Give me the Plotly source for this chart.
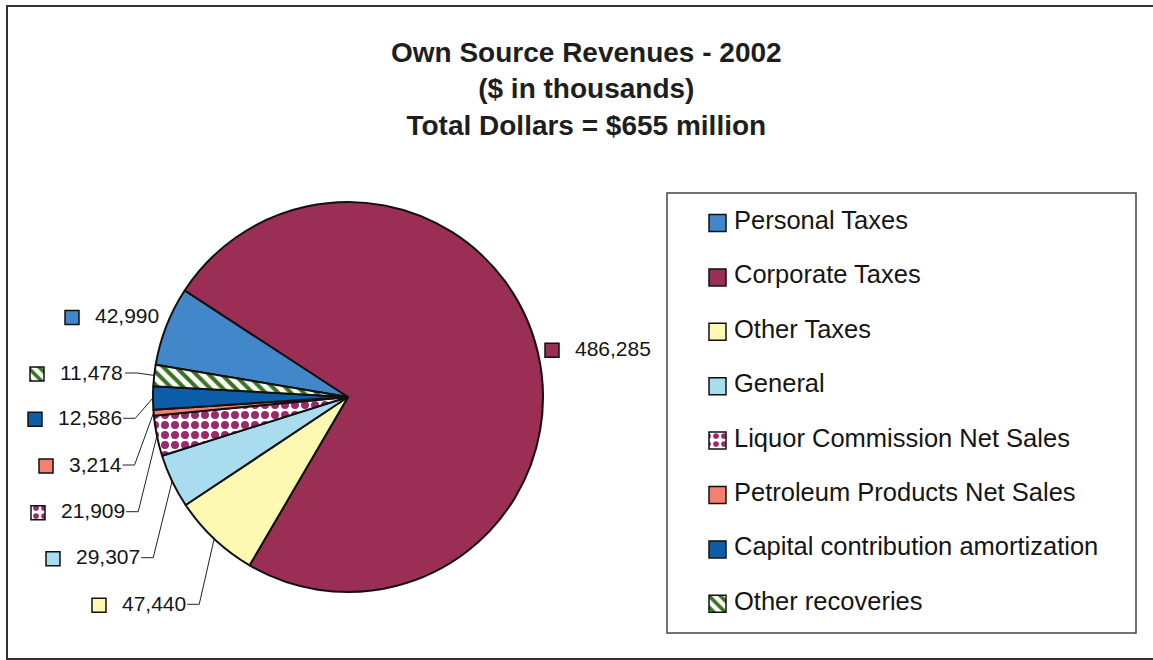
import math
import plotly.graph_objects as go

# ---- data -------------------------------------------------------------
categories = [
    "Personal Taxes",
    "Corporate Taxes",
    "Other Taxes",
    "General",
    "Liquor Commission Net Sales",
    "Petroleum Products Net Sales",
    "Capital contribution amortization",
    "Other recoveries",
]
revenues = [42990, 486285, 47440, 29307, 21909, 3214, 12586, 11478]  # $ thousands

title_lines = [
    "Own Source Revenues - 2002",
    "($ in thousands)",
    "Total Dollars = $655 million",
]

# ---- styles -----------------------------------------------------------
fill_colors = ["#4287c9", "#9b2e55", "#fdf8b2", "#a9dcee",
               "#ffffff", "#f5806f", "#0d5ea9", "#ffffff"]
pattern_shapes = ["", "", "", "", ".", "", "", "\\"]
pattern_fg = ["", "", "", "", "#9a2a6c", "", "", "#3a7420"]

FONT = "Liberation Sans, Arial, sans-serif"
W, H = 1153, 660
CX, CY, R = 348, 397, 195          # pie centre / radius in px
ROTATION = 279.5                   # start angle of first slice (clockwise from 12 o'clock)

# value label placement (text left edge, text middle) in px
label_left = [93, 573, 120, 74, 59, 67, 56, 58]
label_mid = [315.5, 348.3, 603.3, 556.7, 510.7, 464, 417.3, 372]
has_leader = [False, False, True, True, True, True, True, True]
LABEL_SIZE = 21
LABEL_KEY = 14

# legend placement
LEG_BOX = (667, 193, 1136, 633)
LEG_KEY_X = 717.5
LEG_TEXT_X = 732
LEG_TOP = 223
LEG_STEP = 54.4
LEG_SIZE = 25.5
LEG_KEY = 17


def text_width(s, size):
    # Arial / Liberation Sans advance widths for digits and commas
    return sum(0.556 if c.isdigit() else 0.278 for c in s) * size


def pattern_for(i):
    if not pattern_shapes[i]:
        return dict(shape="")
    dots = pattern_shapes[i] == "."
    return dict(shape=pattern_shapes[i], fgcolor=pattern_fg[i], bgcolor="#ffffff",
                size=8, solidity=0.4 if dots else 0.45, fillmode="replace")


fig = go.Figure()

# pie
fig.add_trace(go.Pie(
    labels=categories,
    values=revenues,
    sort=False,
    direction="clockwise",
    rotation=ROTATION,
    textinfo="none",
    hoverinfo="label+value+percent",
    showlegend=False,
    marker=dict(
        colors=fill_colors,
        line=dict(color="#111111", width=2),
        pattern=dict(
            shape=pattern_shapes,
            fgcolor=[c if c else "#000000" for c in pattern_fg],
            bgcolor=[("#ffffff" if s else c) for s, c in zip(pattern_shapes, fill_colors)],
            size=[10 if s == "." else 9 for s in pattern_shapes],
            solidity=[0.5 if s == "." else 0.45 for s in pattern_shapes],
        ),
    ),
    domain=dict(x=[(CX - R) / W, (CX + R) / W], y=[1 - (CY + R) / H, 1 - (CY - R) / H]),
))

# slice mid-angles from the data
total = sum(revenues)
mid_angles = []
acc = 0.0
for v in revenues:
    mid_angles.append(ROTATION + (acc + v / 2) / total * 360.0)
    acc += v

value_text = [f"{v:,}" for v in revenues]
annotations = []

for i, cat in enumerate(categories):
    # value label
    annotations.append(dict(
        x=label_left[i], y=label_mid[i], xref="x", yref="y",
        text=value_text[i], showarrow=False, xanchor="left", yanchor="middle",
        font=dict(family=FONT, size=LABEL_SIZE, color="#151515"),
    ))
    # legend entry text
    annotations.append(dict(
        x=LEG_TEXT_X, y=LEG_TOP + LEG_STEP * i - 3, xref="x", yref="y",
        text=cat, showarrow=False, xanchor="left", yanchor="middle",
        font=dict(family=FONT, size=LEG_SIZE, color="#151515"),
    ))

    # colour keys: one beside the value label, one in the legend box
    kx = [label_left[i] - 21, LEG_KEY_X]
    ky = [label_mid[i] + 2, LEG_TOP + LEG_STEP * i]
    ks = [LABEL_KEY, LEG_KEY]
    fig.add_trace(go.Bar(
        x=kx, y=ks, base=[yc - s / 2 for yc, s in zip(ky, ks)], width=ks,
        marker=dict(color=fill_colors[i], line=dict(color="#111111", width=1.5),
                    pattern=pattern_for(i)),
        hoverinfo="skip", showlegend=False, xaxis="x", yaxis="y",
    ))

    # leader line from label to slice edge
    if has_leader[i]:
        a = math.radians(mid_angles[i])
        ex, ey = CX + R * math.sin(a), CY - R * math.cos(a)
        sx = label_left[i] + text_width(value_text[i], LABEL_SIZE) + 3
        fig.add_trace(go.Scatter(
            x=[sx, sx + 12, ex], y=[label_mid[i] + 1, label_mid[i] + 1, ey],
            mode="lines", line=dict(color="#222222", width=1),
            hoverinfo="skip", showlegend=False,
        ))

# title block
annotations.append(dict(
    x=586, y=89, xref="x", yref="y", text="<br>".join(title_lines),
    showarrow=False, xanchor="center", yanchor="middle", align="center",
    font=dict(family=FONT, size=28, color="#1e1e1e", weight="bold"),
))

shapes = [
    # outer chart frame
    dict(type="rect", xref="x", yref="y", x0=7, y0=6, x1=W + 10, y1=659,
         line=dict(color="#333333", width=2), layer="below"),
    # legend frame
    dict(type="rect", xref="x", yref="y", x0=LEG_BOX[0], y0=LEG_BOX[1],
         x1=LEG_BOX[2], y1=LEG_BOX[3], line=dict(color="#444444", width=1.5), layer="below"),
]

fig.update_layout(
    width=W, height=H,
    margin=dict(l=0, r=0, t=0, b=0),
    paper_bgcolor="white", plot_bgcolor="rgba(0,0,0,0)",
    barmode="overlay",
    xaxis=dict(range=[0, W], visible=False, fixedrange=True),
    yaxis=dict(range=[H, 0], visible=False, fixedrange=True),
    annotations=annotations,
    shapes=shapes,
    showlegend=False,
)

fig.write_html("out.html")
